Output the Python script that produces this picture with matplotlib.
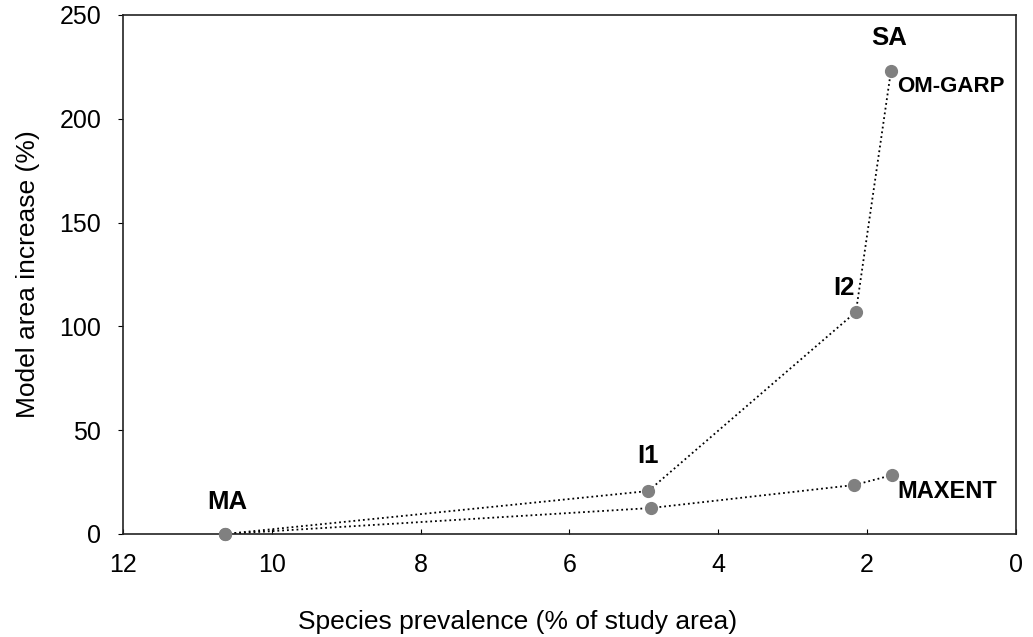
import matplotlib
matplotlib.use("Agg")
import matplotlib.pyplot as plt

plt.rcParams['font.family'] = ['Liberation Sans', 'DejaVu Sans']

stages = ["MA", "I1", "I2", "SA"]
garp_prev = [10.63, 4.94, 2.15, 1.68]
garp_inc = [0, 20.7, 107, 223]
maxent_prev = [10.63, 4.91, 2.17, 1.66]
maxent_inc = [0, 12.5, 23.6, 28.4]

fig = plt.figure(figsize=(10.33, 6.37), dpi=100)
ax = fig.add_axes([0.119, 0.1617, 0.8645, 0.8148])

for xs, ys in [(garp_prev, garp_inc), (maxent_prev, maxent_inc)]:
    ax.plot(xs, ys, linestyle=':', color='black', linewidth=1.3, zorder=2)
    ax.plot(xs, ys, linestyle='none', marker='o', markersize=8.5,
            markerfacecolor='#808080', markeredgecolor='#808080', zorder=3, clip_on=False)

ax.set_xlim(12, 0)
ax.set_ylim(0, 250)
ax.set_xticks([12, 10, 8, 6, 4, 2, 0])
ax.set_yticks([0, 50, 100, 150, 200, 250])

for s in ax.spines.values():
    s.set_linewidth(1.2)
    s.set_color('#222222')

ax.tick_params(axis='x', direction='in', length=3.6, labelsize=18, pad=14)
ax.tick_params(axis='y', direction='out', length=3.6, labelsize=18, pad=12)

ax.set_xlabel("Species prevalence (% of study area)", fontsize=19, va='baseline')
ax.xaxis.set_label_coords(0.442, -0.183)
ax.set_ylabel("Model area increase (%)", fontsize=19)
ax.yaxis.set_label_coords(-0.093, 0.5)

# Stage labels (baseline positioned)
stage_x = [10.6, 4.95, 2.31, 1.70]
stage_y = [12.0, 34.2, 115, 235.5]
for name, sx, sy in zip(stages, stage_x, stage_y):
    ax.text(sx, sy, name, fontsize=18.5, fontweight='bold', ha='center', va='baseline')

# Series labels
ax.text(1.60, 212.9, "OM-GARP", fontsize=16, fontweight='bold', ha='left', va='baseline')
ax.text(1.59, 17.3, "MAXENT", fontsize=17, fontweight='bold', ha='left', va='baseline')

fig.savefig("out.png", dpi=100)
